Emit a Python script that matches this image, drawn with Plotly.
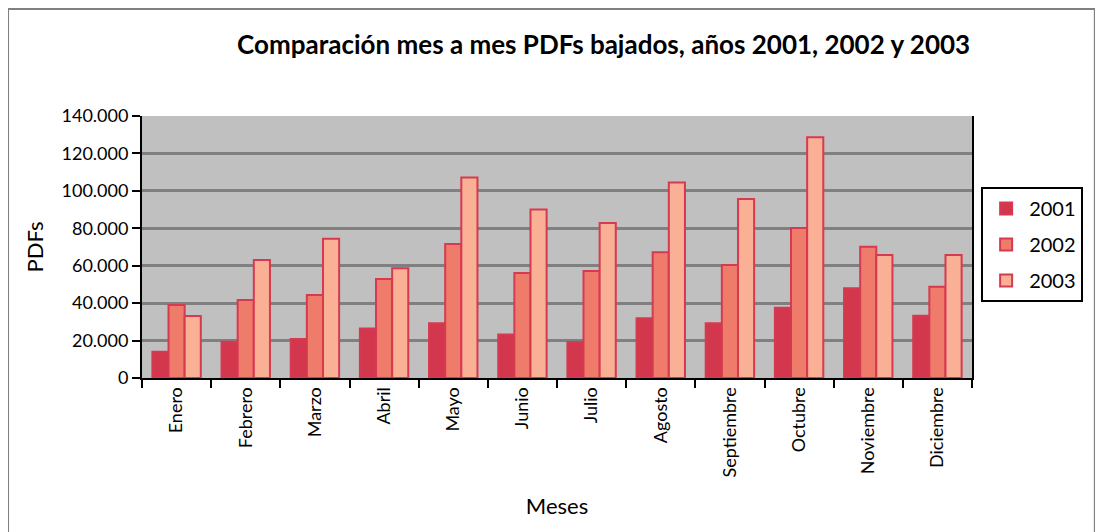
# Comparacion mes a mes PDFs bajados
import plotly.graph_objects as go

meses = ['Enero','Febrero','Marzo','Abril','Mayo','Junio',
         'Julio','Agosto','Septiembre','Octubre','Noviembre','Diciembre']

pdfs_2001 = [14000, 19400, 20800, 26500, 29200, 23300,
             19200, 31900, 29200, 37600, 47900, 33300]
pdfs_2002 = [39000, 41700, 44400, 52900, 71600, 56100,
             57200, 67200, 60400, 80200, 70200, 48800]
pdfs_2003 = [33100, 63000, 74400, 58600, 107200, 90100,
             82800, 104400, 95600, 128600, 65700, 65700]

y_ticks = [0, 20000, 40000, 60000, 80000, 100000, 120000, 140000]

edge = 'rgb(214, 58, 80)'
series = [
    ('2001', pdfs_2001, 'rgb(210, 55, 77)'),
    ('2002', pdfs_2002, 'rgb(239, 123, 107)'),
    ('2003', pdfs_2003, 'rgb(249, 176, 148)'),
]

fig = go.Figure()
for name, vals, col in series:
    fig.add_trace(go.Bar(
        x=meses, y=vals, name=name, legendgroup=name,
        marker=dict(color=col, line=dict(color=edge, width=2))
    ))

# page body adds 8px offset, margins account for it
fig.update_layout(
    width=1103, height=532,
    margin=dict(l=134, r=139, t=108, b=162, autoexpand=False),
    paper_bgcolor='white',
    plot_bgcolor='rgb(192, 192, 192)',
    separators=',.',
    font=dict(family='Lato', size=18, color='black'),
    bargap=0.3, bargroupgap=0,
    title=dict(
        text='<b>Comparación mes a mes PDFs bajados, años 2001, 2002 y 2003</b>',
        x=0.540, xanchor='center', y=0.930, yanchor='middle',
        font=dict(size=26, color='black')
    ),
    legend=dict(
        x=1.011, xanchor='left', y=0.729, yanchor='top',
        bordercolor='black', borderwidth=2, bgcolor='white',
        font=dict(size=20), tracegroupgap=7, itemwidth=36
    ),
    shapes=[dict(
        type='rect', xref='paper', yref='paper',
        x0=-0.1614, x1=1.148, y0=-0.62, y1=1.408,
        line=dict(color='rgb(128,128,128)', width=2), layer='below'
    )]
)

fig.update_xaxes(
    title_text='Meses', title_standoff=22,
    tickangle=-90, tickson='boundaries',
    ticks='outside', ticklen=8, tickwidth=2, tickcolor='black',
    showline=True, linecolor='black', linewidth=2, mirror=False,
    showgrid=False
)
fig.update_yaxes(
    title_text='PDFs', title_standoff=12,
    range=[0, 140000], tickvals=y_ticks, tickformat=',d',
    ticks='outside', ticklen=8, tickwidth=2, tickcolor='black',
    showline=True, linecolor='black', linewidth=2, mirror=True,
    showgrid=True, gridcolor='rgb(128,128,128)', gridwidth=3,
    zeroline=False
)

fig.write_html("out.html")
